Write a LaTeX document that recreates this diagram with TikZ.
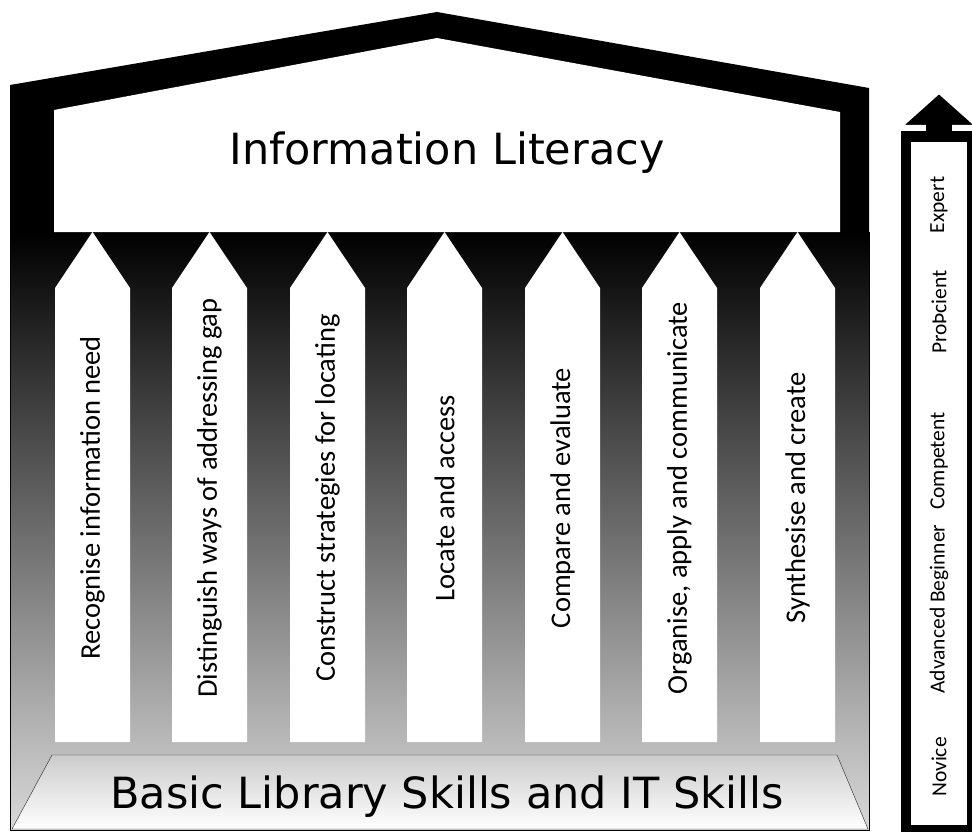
\documentclass[tikz,border=0pt]{standalone}
\usepackage{fontspec}
\setmainfont{DejaVu Sans}
\newfontfamily\labelfont{Carlito}
\begin{document}
\begin{tikzpicture}[x=1pt,y=-1pt,
  bigtext/.style={font=\fontsize{43}{50}\selectfont},
  skilltext/.style={rotate=90,font=\labelfont\fontsize{28.5}{32}\selectfont},
  leveltext/.style={rotate=90,font=\labelfont\fontsize{21.5}{24}\selectfont}]
  \useasboundingbox (0,0) rectangle (972,832);
  % house with roof
  \fill[black] (10,85) -- (437,12) -- (869,88) -- (869,830) -- (10,830) -- cycle;
  \shade[top color=black, bottom color=black!15] (10,232) rectangle (869,830);
  \draw[line width=1pt] (10,232) -- (10,830) -- (869,830) -- (869,232);
  \fill[white] (54,232) -- (54,110) -- (437,38) -- (840,112) -- (840,232) -- cycle;
  \node[bigtext] (lit) at (447,153) {Information Literacy};
  % pillars
  \foreach \x/\txt [count=\i] in {55/Recognise information need,
      172/Distinguish ways of addressing gap, 290/Construct strategies for locating,
      407/Locate and access, 525/Compare and evaluate,
      642/{Organise, apply and communicate}, 760/Synthesise and create}
  {
    \fill[white] (\x,742) -- (\x,288) -- (\x+37.5,232) -- (\x+75,288) -- (\x+75,742) -- cycle;
    \node[skilltext] (skill\i) at (\x+37.5,498) {\txt};
  }
  % base
  \shade[top color=black!20, bottom color=white, draw=black!85]
    (52,755) -- (837,755) -- (868,829) -- (12,829) -- cycle;
  \node[bigtext] (base) at (447,797) {Basic Library Skills and IT Skills};
  % scale arrow
  \fill[black] (901,131) rectangle (977,832);
  \fill[white] (911,142) rectangle (967,825);
  \fill[black, draw=white, line width=2pt] (902,126) -- (939,93) -- (976,126) -- cycle;
  \fill[black] (926,121) rectangle (952,135);
  \node[leveltext] (novice) at (939,767) {Novice};
  \node[leveltext] (advanced) at (939,609) {Advanced Beginner};
  \node[leveltext] (competent) at (939,461) {Competent};
  \node[leveltext] (proficient) at (939,312) {ProÞcient};
  \node[leveltext] (expert) at (939,205) {Expert};
\end{tikzpicture}
\end{document}
